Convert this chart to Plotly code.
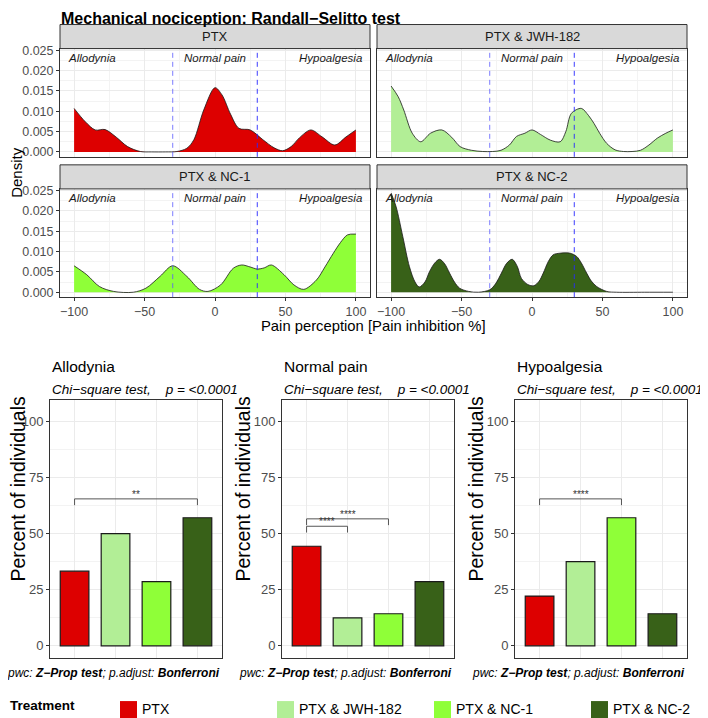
import plotly.graph_objects as go

W, H = 708, 718
FONT = "Liberation Sans"

treatments = ["PTX", "PTX & JWH-182", "PTX & NC-1", "PTX & NC-2"]
colors = ["#DD0000", "#B2EE96", "#8FFF38", "#386118"]

# density curves (pain inhibition %, density)
ptx_x = [-100, -92, -85, -78, -70, -62, -53, -45, -35, -27, -20, -15, -8, 0, 5, 11, 17, 25,
         34, 42, 48, 54, 60, 68, 76, 85, 93, 100]
ptx_y = [0.0107, 0.0074, 0.0054, 0.0055, 0.0036, 0.0013, 0.0001, 0.0, 0.0, 0.0001, 0.0009,
         0.003, 0.0103, 0.0158, 0.014, 0.0093, 0.0058, 0.0054, 0.003, 0.001, 0.0003, 0.0013,
         0.0035, 0.0054, 0.0037, 0.0017, 0.0037, 0.0054]

jwh_x = [-100, -95, -91, -85, -79, -72, -64, -57, -51, -43, -35, -28, -22, -16, -11, -5, 0,
         6, 13, 20, 24, 28, 35, 40, 44, 48, 53, 59, 65, 71, 77, 83, 89, 95, 100]
jwh_y = [0.0162, 0.0136, 0.0103, 0.0046, 0.0025, 0.0046, 0.0054, 0.0036, 0.0013, 0.0004,
         0.0001, 0.0001, 0.0004, 0.0017, 0.0038, 0.0046, 0.0054, 0.0043, 0.0029, 0.0025,
         0.005, 0.0095, 0.0107, 0.009, 0.007, 0.0046, 0.0021, 0.0005, 0.0001, 0.0001, 0.0004,
         0.0017, 0.0034, 0.0046, 0.0054]

nc1_x = [-100, -91, -82, -72, -58, -49, -39, -30, -20, -11, -5, 4, 13, 19, 25, 30, 35, 40,
         49, 56, 63, 72, 78, 84, 89, 94, 100]
nc1_y = [0.0065, 0.0043, 0.0014, 0.0002, 0.0, 0.001, 0.0039, 0.0065, 0.0039, 0.0007, 0.0002,
         0.0018, 0.0059, 0.0067, 0.0062, 0.0057, 0.006, 0.0067, 0.0043, 0.0018, 0.0007, 0.003,
         0.0062, 0.0096, 0.0122, 0.0141, 0.0143]

nc2_x = [-100, -96.5, -91.7, -87, -83, -80, -76, -72.7, -69, -65.6, -62, -58.5, -55, -51.4,
         -45, -38, -30, -26, -21.7, -18, -14.1, -10.5, -7.5, -3, 1.3, 5, 8, 11.5, 15, 19.8, 27,
         31.7, 35, 38.8, 42, 45.9, 53, 60, 80, 100]
nc2_y = [0.0244, 0.0211, 0.0137, 0.0063, 0.0025, 0.0013, 0.0025, 0.0051, 0.0072, 0.0081,
         0.007, 0.0047, 0.0025, 0.001, 0.0002, 0.0, 0.0006, 0.002, 0.0047, 0.0071, 0.0081,
         0.0064, 0.0034, 0.0019, 0.0016, 0.0027, 0.0047, 0.0075, 0.0092, 0.0096, 0.0096,
         0.0088, 0.0072, 0.0047, 0.0028, 0.0014, 0.0002, 0.0, 0.0, 0.0]

density_x = [ptx_x, jwh_x, nc1_x, nc2_x]
density_y = [ptx_y, jwh_y, nc1_y, nc2_y]

zones = ["Allodynia", "Normal pain", "Hypoalgesia"]
cutoffs = [-30, 30]

# percent of individuals per pain class
allodynia_pct = [33.3, 50.0, 28.6, 57.1]
normal_pct = [44.4, 12.5, 14.3, 28.6]
hypo_pct = [22.2, 37.5, 57.1, 14.3]
percents = [allodynia_pct, normal_pct, hypo_pct]

# pairwise Z-prop comparisons: (panel, group a, group b, bracket height, label)
brackets = [(0, 1, 4, 65.5, "**"), (1, 1, 2, 53.3, "****"),
            (1, 1, 3, 56.6, "****"), (2, 1, 3, 65.5, "****")]

# the page puts the figure a little right of / below the window corner
OFF_X = 8
OFF_Y, SCALE_Y = 13.5, 0.988


def fx(p):
    return (p - OFF_X) / W


def fy(p):
    return 1 - (p - OFF_Y) / SCALE_Y / H


def label(text, x, y, size, xanchor="center", **kw):
    return dict(text=text, xref="paper", yref="paper", x=fx(x), y=fy(y), xanchor=xanchor,
                yanchor="middle", showarrow=False, font=dict(family=FONT, size=size, color="black"), **kw)


dens_boxes = [(60, 370, 49, 157), (377, 687, 49, 157), (60, 370, 189, 297), (377, 687, 189, 297)]
bar_boxes = [(50, 222, 400, 657), (282, 454, 400, 657), (515, 687, 400, 657)]

fig = go.Figure()
shapes = []
annotations = []
axes = {}

grid = "#EBEBEB"
minor = dict(showgrid=True, gridcolor="#F3F3F3", gridwidth=0.6)
tickfont = dict(family=FONT, size=12.5, color="#4D4D4D")

for i, (x0, x1, y0, y1) in enumerate(dens_boxes):
    n = i + 1
    xa = "xaxis" if n == 1 else f"xaxis{n}"
    ya = "yaxis" if n == 1 else f"yaxis{n}"
    xr = "x" if n == 1 else f"x{n}"
    yr = "y" if n == 1 else f"y{n}"
    bottom = i >= 2
    left = i % 2 == 0
    axes[xa] = dict(domain=[fx(x0), fx(x1)], anchor=yr, range=[-110, 110], tickvals=[-100, -50, 0, 50, 100],
                    showticklabels=bottom, ticks="outside" if bottom else "", ticklen=3, tickcolor="#333333",
                    tickfont=tickfont, showgrid=True, gridcolor=grid, gridwidth=1, zeroline=False,
                    minor=dict(tickvals=[-75, -25, 25, 75], **minor),
                    showline=True, mirror=True, linecolor="#333333", linewidth=1)
    axes[ya] = dict(domain=[fy(y1), fy(y0)], anchor=xr, range=[-0.00121, 0.02541],
                    tickvals=[0, 0.005, 0.01, 0.015, 0.02, 0.025], tickformat=".3f",
                    showticklabels=left, ticks="outside" if left else "", ticklen=3, tickcolor="#333333",
                    tickfont=tickfont, showgrid=True, gridcolor=grid, gridwidth=1, zeroline=False,
                    minor=dict(tickvals=[0.0025, 0.0075, 0.0125, 0.0175, 0.0225], **minor),
                    showline=True, mirror=True, linecolor="#333333", linewidth=1)

    fig.add_trace(go.Scatter(x=density_x[i], y=density_y[i], xaxis=xr, yaxis=yr, mode="lines",
                             fill="tozeroy", fillcolor=colors[i], name=treatments[i], showlegend=False,
                             line=dict(color="#1A1A1A", width=0.8, shape="spline", smoothing=0.9)))

    for c, col in zip(cutoffs, ["rgba(90,90,255,0.8)", "rgba(40,40,255,0.9)"]):
        shapes.append(dict(type="line", xref=xr, yref=f"{yr} domain", x0=c, x1=c, y0=0, y1=1,
                           line=dict(color=col, width=1, dash="5px,4px")))

    # strip
    sy0 = y0 - 24
    shapes.append(dict(type="rect", xref="paper", yref="paper", x0=fx(x0), x1=fx(x1), y0=fy(y0), y1=fy(sy0),
                       fillcolor="#D9D9D9", line=dict(color="#333333", width=1)))
    ann = label(treatments[i], (x0 + x1) / 2, sy0 + 12, 13)
    ann["font"]["color"] = "#1A1A1A"
    annotations.append(ann)

    for z, zx, anc in zip(zones, [-106, 0, 106], ["left", "center", "right"]):
        annotations.append(dict(text=f"<i>{z}</i>", xref=xr, yref=yr, x=zx, y=0.0231, xanchor=anc,
                                yanchor="middle", showarrow=False,
                                font=dict(family=FONT, size=11.5, color="#1A1A1A")))

bar_font = dict(family=FONT, size=13, color="#4D4D4D")
for j, (x0, x1, y0, y1) in enumerate(bar_boxes):
    n = j + 5
    xr, yr = f"x{n}", f"y{n}"
    axes[f"xaxis{n}"] = dict(domain=[fx(x0), fx(x1)], anchor=yr, range=[0.4, 4.6], tickvals=[1, 2, 3, 4],
                             showticklabels=False, ticks="", showgrid=True, gridcolor=grid, zeroline=False,
                             showline=True, mirror=True, linecolor="#333333", linewidth=1)
    axes[f"yaxis{n}"] = dict(domain=[fy(y1), fy(y0)], anchor=xr, range=[-5.4, 109.4],
                             tickvals=[0, 25, 50, 75, 100], ticks="outside", ticklen=3, tickcolor="#333333",
                             tickfont=bar_font, showgrid=True, gridcolor=grid, zeroline=False,
                             minor=dict(tickvals=[12.5, 37.5, 62.5, 87.5], **minor),
                             showline=True, mirror=True, linecolor="#333333", linewidth=1)

    fig.add_trace(go.Bar(x=[1, 2, 3, 4], y=percents[j], xaxis=xr, yaxis=yr, width=0.7, showlegend=False,
                         marker=dict(color=colors, line=dict(color="#1A1A1A", width=1.2))))

    annotations.append(label(zones[j], x0, 366, 15.5, "left"))
    annotations.append(label("<i>Chi\u2212square test,\u00a0\u00a0\u00a0\u00a0p\u00a0=\u00a0<0.0001</i>",
                             x0, 389, 13.5, "left"))
    annotations.append(label("<i>pwc: <b>Z\u2212Prop test</b>; p.adjust: <b>Bonferroni</b></i>",
                             x1, 672, 12, "right"))
    annotations.append(label("Percent of individuals", max(x0 - 39, OFF_X + 10), 488, 19.5, textangle=-90))

for panel, a, b, h, lab in brackets:
    n = panel + 5
    fig.add_trace(go.Scatter(x=[a, a, b, b], y=[h - 2.8, h, h, h - 2.8], xaxis=f"x{n}", yaxis=f"y{n}",
                             mode="lines", line=dict(color="#555555", width=1), showlegend=False))
    annotations.append(dict(text=lab, xref=f"x{n}", yref=f"y{n}", x=(a + b) / 2, y=h, yanchor="bottom",
                            yshift=-3, showarrow=False, font=dict(family=FONT, size=10, color="#333333")))

# shared titles (kept just inside the figure where the reference sits in the margin)
annotations.append(dict(text="<b>Mechanical nociception: Randall\u2212Selitto test</b>", xref="paper",
                        yref="paper", x=fx(59), y=1 - 6 / H, xanchor="left", yanchor="middle",
                        showarrow=False, font=dict(family=FONT, size=16, color="black")))
annotations.append(label("Pain perception [Pain inhibition %]", 373.5, 326, 14.8))
annotations.append(label("Density", OFF_X + 9, 173, 15, textangle=-90))

# legend
annotations.append(label("<b>Treatment</b>", OFF_X, 704, 13.5, "left"))
for k, (t, c) in enumerate(zip(treatments, colors)):
    kx = 120 + k * 157
    shapes.append(dict(type="rect", xref="paper", yref="paper", x0=fx(kx), x1=fx(kx + 17), y0=fy(717),
                       y1=fy(700), fillcolor=c, line=dict(width=0)))
    annotations.append(label(t, kx + 20, 708, 14, "left"))

fig.update_layout(width=W, height=H, margin=dict(l=0, r=0, t=0, b=0), plot_bgcolor="white",
                  paper_bgcolor="white", shapes=shapes, annotations=annotations,
                  font=dict(family=FONT), **axes)

fig.write_html("out.html")
